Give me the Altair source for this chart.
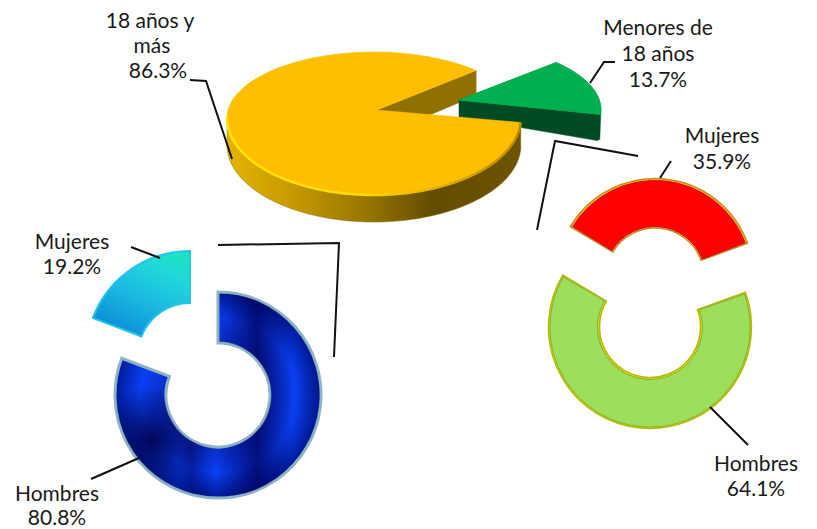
import math
import altair as alt
import pandas as pd

# Shares
edad_share = {"18 años y más": 86.3, "Menores de 18 años": 13.7}
adultos_share = {"Mujeres": 35.9, "Hombres": 64.1}
menores_share = {"Mujeres": 19.2, "Hombres": 80.8}

labels = ["18 años y", "más", "86.3%", "Menores de", "18 años", "13.7%",
          "Mujeres", "35.9%", "Hombres", "64.1%",
          "Mujeres", "19.2%", "Hombres", "80.8%"]
label_x = [150, 152, 158, 658, 658, 658, 722, 722, 756, 756, 72, 72, 57, 57]
label_y = [22, 47, 72, 29, 55, 81, 137, 163, 465, 490, 243, 268, 495, 519]

leaders = [
    [(190, 80), (206, 81), (232, 159)],
    [(615, 62), (604, 62), (590, 83)],
    [(537, 230), (555, 141), (638, 156)],
    [(671, 161), (660, 178)],
    [(710, 407), (748, 445)],
    [(218, 245), (339, 243), (334, 357)],
    [(131, 247), (160, 258)],
    [(91, 479), (139, 458)],
]

W, H = 801, 521
X = alt.Scale(domain=[8, 8 + W], range=[0, W])
Y = alt.Scale(domain=[8 + H, 8], range=[H, 0])


def ell(cx, cy, rx, ry_top, ry_bot, t):
    a = math.radians(t)
    c = math.cos(a)
    return cx + rx * math.sin(a), cy - (ry_top if c > 0 else ry_bot) * c


def poly(points, **style):
    df = pd.DataFrame({"x": [p[0] for p in points], "y": [p[1] for p in points],
                       "i": range(len(points))})
    return alt.Chart(df).mark_line(**style).encode(
        x=alt.X("x:Q", scale=X, axis=None),
        y=alt.Y("y:Q", scale=Y, axis=None),
        order=alt.Order("i:Q"),
    )


def grad(stops, x1=0, y1=0, x2=1, y2=0):
    return alt.Gradient(gradient="linear", x1=x1, y1=y1, x2=x2, y2=y2,
                        stops=[alt.GradientStop(offset=o, color=c) for o, c in stops])


def rgrad(stops, r1, r2, x=.5, y=.5):
    return alt.Gradient(gradient="radial", x1=x, y1=y, x2=x, y2=y, r1=r1, r2=r2,
                        stops=[alt.GradientStop(offset=o, color=c) for o, c in stops])


def arc(cx, cy, start, share, inner, outer, trim=0, **style):
    a = math.radians(start + trim)
    b = math.radians(start + share * 3.6 - trim)
    df = pd.DataFrame({"x": [cx], "y": [cy], "a": [a], "b": [b]})
    return alt.Chart(df).mark_arc(innerRadius=inner, outerRadius=outer, **style).encode(
        x=alt.X("x:Q", scale=X, axis=None),
        y=alt.Y("y:Q", scale=Y, axis=None),
        theta=alt.Theta("a:Q", scale=None),
        theta2=alt.Theta2("b:Q"),
    )


layers = []

# --- exploded 3-D pie ---
gap = edad_share["Menores de 18 años"] / 100 * 360
t0 = 44
t1 = t0 + gap
cx, cy, rx, rt, rb = 374, 118, 147, 66, 77
depth = 27
apex = (377, 110)
ts = [t1 + (t0 + 360 - t1) * k / 180 for k in range(181)]
rim = [ell(cx, cy, rx, rt, rb, t) for t in ts]
front = [ell(cx, cy, rx, rt, rb, t1 + (272 - t1) * k / 100) for k in range(101)]
wall = front + [(x, y + depth) for x, y in reversed(front)] + [front[0]]
far = ell(cx, cy, rx, rt, rb, t0)

layers.append(poly([apex, far, (far[0], far[1] + depth - 2), (apex[0], apex[1] + depth), apex],
                   fill="#8f7000", stroke="#8f7000", strokeWidth=0.5))
layers.append(poly(wall, stroke="#8a6c00", strokeWidth=0.5,
                   fill=grad([(0, "#e6b400"), (0.22, "#c79a00"), (0.45, "#9c7a00"),
                              (0.7, "#644c00"), (1, "#6e5400")])))

# green slice
gx, gy = 454, 110
gapex = (459, 100)
g_arc = [ell(gx, gy, rx, rt, rb, t0 + gap * k / 40) for k in range(41)]
layers.append(poly([gapex, g_arc[-1], (g_arc[-1][0] - 1, g_arc[-1][1] + 25),
                    (597, 140.5), (459, 117), gapex],
                   fill="#004a24", stroke="#004a24", strokeWidth=0.5))
layers.append(poly([gapex] + g_arc + [gapex], fill="#00b050", stroke="#00a84c", strokeWidth=1))

# yellow top face
layers.append(poly([apex] + rim + [apex], fill="#ffbe00", stroke="#ffbe00", strokeWidth=0.5))
layers.append(poly(front, strokeWidth=2.5,
                   stroke=grad([(0, "#ffe600"), (0.45, "#ffdc00"), (0.8, "#d8a400"), (1, "#b88c00")])))

# --- adult doughnut (red / green) ---
green_start = 70
layers.append(arc(650, 327, green_start, adultos_share["Hombres"], 50.5, 101.5,
                  fill="#dede00", stroke="#b8b800", strokeWidth=1.5))
layers.append(arc(650, 327, green_start, adultos_share["Hombres"], 52.5, 100, trim=0.8,
                  fill="#9ddf5a", stroke="#7fae45", strokeWidth=1))
red_start = green_start + adultos_share["Hombres"] * 3.6 - 360
layers.append(arc(655, 277, red_start, adultos_share["Mujeres"], 49, 98.5,
                  fill="#ffc000", stroke="#b89030", strokeWidth=1.5))
layers.append(arc(655, 277, red_start, adultos_share["Mujeres"], 50.5, 96.5, trim=0.8,
                  fill="#ff0000", stroke="#e00000", strokeWidth=1))

# --- minors doughnut (blue / cyan) ---
bx, by = 218, 395
layers.append(arc(bx, by, 0, menores_share["Hombres"], 52, 103,
                  stroke="#8cb4c4", strokeWidth=3,
                  fill=rgrad([(0, "#0a2fc8"), (0.5, "#0a40f4"), (1, "#001a96")], 0.25, 0.5)))
layers.append(arc(bx, by, 0, menores_share["Hombres"], 53, 102,
                  fill=grad([(0.3, "rgba(0,0,90,0)"), (0.37, "rgba(0,0,90,0.45)"),
                             (0.49, "rgba(0,0,90,0)"), (0.69, "rgba(0,0,90,0.75)"),
                             (0.87, "rgba(0,0,90,0)"), (1, "rgba(0,0,90,0.2)")])))
layers.append(arc(bx, by, 0, menores_share["Hombres"], 53, 102,
                  fill=rgrad([(0, "rgba(0,0,70,0.9)"), (1, "rgba(0,0,70,0)")], 0, 0.27, x=0.18, y=0.72)))
layers.append(arc(190, 355, menores_share["Hombres"] * 3.6, menores_share["Mujeres"], 52, 104,
                  stroke="#22c4ee", strokeWidth=2,
                  fill=grad([(0, "#1de3bf"), (0.25, "#20d8d8"), (0.6, "#1bb8e0"), (1, "#0a8fd6")],
                            x1=0.9, y1=0, x2=0.35, y2=1)))

# --- leader lines ---
for pts in leaders:
    layers.append(poly(pts, stroke="#111111", strokeWidth=2))

# --- labels ---
text_df = pd.DataFrame({"t": labels, "x": label_x, "y": label_y})
layers.append(alt.Chart(text_df).mark_text(font="Lato", fontSize=21, color="#1a1a1a",
                                           align="center", baseline="middle").encode(
    x=alt.X("x:Q", scale=X, axis=None),
    y=alt.Y("y:Q", scale=Y, axis=None),
    text="t:N",
))

chart = alt.layer(*layers).properties(
    width=W, height=H, padding=0, autosize=alt.AutoSizeParams(type="none"),
).configure_view(stroke=None)

chart.save("out.html", embed_options={"renderer": "svg", "actions": False})
